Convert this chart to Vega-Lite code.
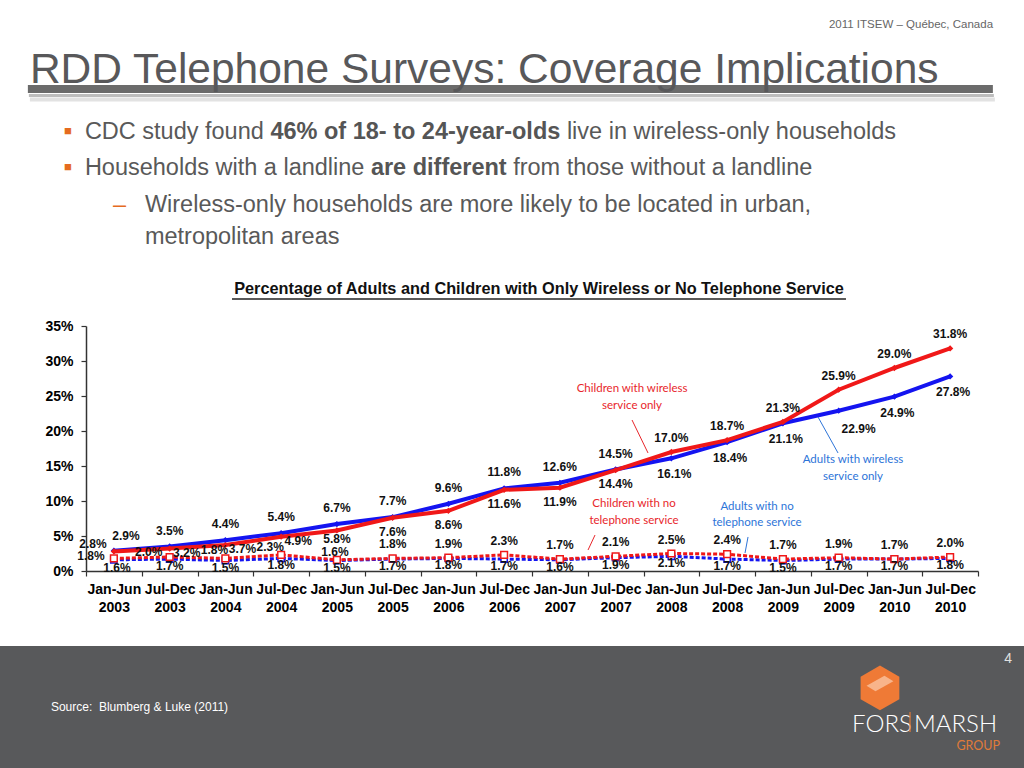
{
  "$schema": "https://vega.github.io/schema/vega-lite/v6.json",
  "width": 1024,
  "height": 768,
  "autosize": {"type": "none"},
  "padding": 0,
  "background": "#ffffff",
  "view": {
    "stroke": null,
    "fill": {
      "gradient": "linear", "x1": 0, "y1": 0, "x2": 0, "y2": 1,
      "stops": [
        {"offset": 0, "color": "#ffffff"},
        {"offset": 0.8411, "color": "#ffffff"},
        {"offset": 0.8412, "color": "#58595b"},
        {"offset": 1, "color": "#58595b"}
      ]
    }
  },
  "datasets": {
    "rates": [
      {"period": "Jan-Jun 2003", "series": "Adults with wireless service only", "value": 0.029},
      {"period": "Jul-Dec 2003", "series": "Adults with wireless service only", "value": 0.035},
      {"period": "Jan-Jun 2004", "series": "Adults with wireless service only", "value": 0.044},
      {"period": "Jul-Dec 2004", "series": "Adults with wireless service only", "value": 0.054},
      {"period": "Jan-Jun 2005", "series": "Adults with wireless service only", "value": 0.067},
      {"period": "Jul-Dec 2005", "series": "Adults with wireless service only", "value": 0.077},
      {"period": "Jan-Jun 2006", "series": "Adults with wireless service only", "value": 0.096},
      {"period": "Jul-Dec 2006", "series": "Adults with wireless service only", "value": 0.118},
      {"period": "Jan-Jun 2007", "series": "Adults with wireless service only", "value": 0.126},
      {"period": "Jul-Dec 2007", "series": "Adults with wireless service only", "value": 0.145},
      {"period": "Jan-Jun 2008", "series": "Adults with wireless service only", "value": 0.161},
      {"period": "Jul-Dec 2008", "series": "Adults with wireless service only", "value": 0.184},
      {"period": "Jan-Jun 2009", "series": "Adults with wireless service only", "value": 0.211},
      {"period": "Jul-Dec 2009", "series": "Adults with wireless service only", "value": 0.229},
      {"period": "Jan-Jun 2010", "series": "Adults with wireless service only", "value": 0.249},
      {"period": "Jul-Dec 2010", "series": "Adults with wireless service only", "value": 0.278},
      {"period": "Jan-Jun 2003", "series": "Children with wireless service only", "value": 0.028},
      {"period": "Jul-Dec 2003", "series": "Children with wireless service only", "value": 0.032},
      {"period": "Jan-Jun 2004", "series": "Children with wireless service only", "value": 0.037},
      {"period": "Jul-Dec 2004", "series": "Children with wireless service only", "value": 0.049},
      {"period": "Jan-Jun 2005", "series": "Children with wireless service only", "value": 0.058},
      {"period": "Jul-Dec 2005", "series": "Children with wireless service only", "value": 0.076},
      {"period": "Jan-Jun 2006", "series": "Children with wireless service only", "value": 0.086},
      {"period": "Jul-Dec 2006", "series": "Children with wireless service only", "value": 0.116},
      {"period": "Jan-Jun 2007", "series": "Children with wireless service only", "value": 0.119},
      {"period": "Jul-Dec 2007", "series": "Children with wireless service only", "value": 0.144},
      {"period": "Jan-Jun 2008", "series": "Children with wireless service only", "value": 0.170},
      {"period": "Jul-Dec 2008", "series": "Children with wireless service only", "value": 0.187},
      {"period": "Jan-Jun 2009", "series": "Children with wireless service only", "value": 0.213},
      {"period": "Jul-Dec 2009", "series": "Children with wireless service only", "value": 0.259},
      {"period": "Jan-Jun 2010", "series": "Children with wireless service only", "value": 0.290},
      {"period": "Jul-Dec 2010", "series": "Children with wireless service only", "value": 0.318},
      {"period": "Jan-Jun 2003", "series": "Adults with no telephone service", "value": 0.016},
      {"period": "Jul-Dec 2003", "series": "Adults with no telephone service", "value": 0.017},
      {"period": "Jan-Jun 2004", "series": "Adults with no telephone service", "value": 0.015},
      {"period": "Jul-Dec 2004", "series": "Adults with no telephone service", "value": 0.018},
      {"period": "Jan-Jun 2005", "series": "Adults with no telephone service", "value": 0.015},
      {"period": "Jul-Dec 2005", "series": "Adults with no telephone service", "value": 0.017},
      {"period": "Jan-Jun 2006", "series": "Adults with no telephone service", "value": 0.018},
      {"period": "Jul-Dec 2006", "series": "Adults with no telephone service", "value": 0.017},
      {"period": "Jan-Jun 2007", "series": "Adults with no telephone service", "value": 0.016},
      {"period": "Jul-Dec 2007", "series": "Adults with no telephone service", "value": 0.019},
      {"period": "Jan-Jun 2008", "series": "Adults with no telephone service", "value": 0.021},
      {"period": "Jul-Dec 2008", "series": "Adults with no telephone service", "value": 0.017},
      {"period": "Jan-Jun 2009", "series": "Adults with no telephone service", "value": 0.015},
      {"period": "Jul-Dec 2009", "series": "Adults with no telephone service", "value": 0.017},
      {"period": "Jan-Jun 2010", "series": "Adults with no telephone service", "value": 0.017},
      {"period": "Jul-Dec 2010", "series": "Adults with no telephone service", "value": 0.018},
      {"period": "Jan-Jun 2003", "series": "Children with no telephone service", "value": 0.018},
      {"period": "Jul-Dec 2003", "series": "Children with no telephone service", "value": 0.020},
      {"period": "Jan-Jun 2004", "series": "Children with no telephone service", "value": 0.018},
      {"period": "Jul-Dec 2004", "series": "Children with no telephone service", "value": 0.023},
      {"period": "Jan-Jun 2005", "series": "Children with no telephone service", "value": 0.016},
      {"period": "Jul-Dec 2005", "series": "Children with no telephone service", "value": 0.018},
      {"period": "Jan-Jun 2006", "series": "Children with no telephone service", "value": 0.019},
      {"period": "Jul-Dec 2006", "series": "Children with no telephone service", "value": 0.023},
      {"period": "Jan-Jun 2007", "series": "Children with no telephone service", "value": 0.017},
      {"period": "Jul-Dec 2007", "series": "Children with no telephone service", "value": 0.021},
      {"period": "Jan-Jun 2008", "series": "Children with no telephone service", "value": 0.025},
      {"period": "Jul-Dec 2008", "series": "Children with no telephone service", "value": 0.024},
      {"period": "Jan-Jun 2009", "series": "Children with no telephone service", "value": 0.017},
      {"period": "Jul-Dec 2009", "series": "Children with no telephone service", "value": 0.019},
      {"period": "Jan-Jun 2010", "series": "Children with no telephone service", "value": 0.017},
      {"period": "Jul-Dec 2010", "series": "Children with no telephone service", "value": 0.020}
    ]
  },
  "layer": [
    {
      "data": {"name": "rates"},
      "transform": [{"filter": {"field": "series", "equal": "Adults with no telephone service"}}],
      "mark": {"type": "line", "color": "#1414f0", "strokeWidth": 3, "strokeDash": [4, 2]},
      "encoding": {
        "x": {
          "field": "period", "type": "ordinal", "bandPosition": 0.5,
          "scale": {"type": "band", "domain": ["Jan-Jun 2003","Jul-Dec 2003","Jan-Jun 2004","Jul-Dec 2004","Jan-Jun 2005","Jul-Dec 2005","Jan-Jun 2006","Jul-Dec 2006","Jan-Jun 2007","Jul-Dec 2007","Jan-Jun 2008","Jul-Dec 2008","Jan-Jun 2009","Jul-Dec 2009","Jan-Jun 2010","Jul-Dec 2010"], "range": [86, 978], "paddingInner": 0, "paddingOuter": 0},
          "axis": {
            "title": null, "orient": "bottom", "offset": -197,
            "labelExpr": "split(datum.label, ' ')",
            "labelFont": "Liberation Sans", "labelFontSize": 14, "labelFontWeight": "bold", "labelColor": "#000000",
            "labelLineHeight": 18, "labelPadding": 6, "labelAngle": 0, "labelOverlap": false, "labelFlush": false,
            "tickBand": "extent", "tickSize": 5, "tickColor": "#333333", "tickWidth": 1.2,
            "domainColor": "#333333", "domainWidth": 1.5, "grid": false
          }
        },
        "y": {
          "field": "value", "type": "quantitative",
          "scale": {"domain": [0, 0.35], "range": [571, 326], "nice": false, "zero": false},
          "axis": {
            "title": null, "offset": -86, "values": [0, 0.05, 0.1, 0.15, 0.2, 0.25, 0.3, 0.35], "format": ".0%",
            "labelFont": "Liberation Sans", "labelFontSize": 14, "labelFontWeight": "bold", "labelColor": "#000000",
            "labelPadding": 8, "tickSize": 5, "tickColor": "#333333", "tickWidth": 1.2,
            "domainColor": "#333333", "domainWidth": 1.5, "grid": false
          }
        }
      }
    },
    {
      "data": {"name": "rates"},
      "transform": [{"filter": {"field": "series", "equal": "Adults with no telephone service"}}],
      "mark": {"type": "point", "shape": "square", "filled": true, "fill": "#ffffff", "stroke": "#1414f0", "strokeWidth": 1.5, "size": 40, "opacity": 1},
      "encoding": {"x": {"field": "period", "type": "ordinal", "bandPosition": 0.5}, "y": {"field": "value", "type": "quantitative"}}
    },
    {
      "data": {"name": "rates"},
      "transform": [{"filter": {"field": "series", "equal": "Children with no telephone service"}}],
      "mark": {"type": "line", "color": "#f01818", "strokeWidth": 3, "strokeDash": [4, 2]},
      "encoding": {"x": {"field": "period", "type": "ordinal", "bandPosition": 0.5}, "y": {"field": "value", "type": "quantitative"}}
    },
    {
      "data": {"name": "rates"},
      "transform": [{"filter": {"field": "series", "equal": "Children with no telephone service"}}],
      "mark": {"type": "point", "shape": "square", "filled": true, "fill": "#ffffff", "stroke": "#f01818", "strokeWidth": 1.5, "size": 45, "opacity": 1},
      "encoding": {"x": {"field": "period", "type": "ordinal", "bandPosition": 0.5}, "y": {"field": "value", "type": "quantitative"}}
    },
    {
      "data": {"name": "rates"},
      "transform": [{"filter": {"field": "series", "equal": "Adults with wireless service only"}}],
      "mark": {"type": "line", "color": "#1414f0", "strokeWidth": 4},
      "encoding": {"x": {"field": "period", "type": "ordinal", "bandPosition": 0.5}, "y": {"field": "value", "type": "quantitative"}}
    },
    {
      "data": {"name": "rates"},
      "transform": [{"filter": {"field": "series", "equal": "Adults with wireless service only"}}],
      "mark": {"type": "point", "shape": "diamond", "filled": true, "color": "#1414f0", "size": 40, "opacity": 1},
      "encoding": {"x": {"field": "period", "type": "ordinal", "bandPosition": 0.5}, "y": {"field": "value", "type": "quantitative"}}
    },
    {
      "data": {"name": "rates"},
      "transform": [{"filter": {"field": "series", "equal": "Children with wireless service only"}}],
      "mark": {"type": "line", "color": "#f01818", "strokeWidth": 4},
      "encoding": {"x": {"field": "period", "type": "ordinal", "bandPosition": 0.5}, "y": {"field": "value", "type": "quantitative"}}
    },
    {
      "data": {"name": "rates"},
      "transform": [{"filter": {"field": "series", "equal": "Children with wireless service only"}}],
      "mark": {"type": "point", "shape": "diamond", "filled": true, "color": "#f01818", "size": 40, "opacity": 1},
      "encoding": {"x": {"field": "period", "type": "ordinal", "bandPosition": 0.5}, "y": {"field": "value", "type": "quantitative"}}
    },
    {
      "data": {"name": "rates"},
      "transform": [{"filter": {"and": [{"field": "series", "equal": "Adults with wireless service only"}, {"field": "period", "oneOf": ["Jan-Jun 2003"]}]}}],
      "mark": {"type": "text", "font": "Liberation Sans", "fontSize": 12, "fontWeight": "bold", "fill": "#111111", "dy": -15, "dx": 12},
      "encoding": {"x": {"field": "period", "type": "ordinal", "bandPosition": 0.5}, "y": {"field": "value", "type": "quantitative"}, "text": {"field": "value", "format": ".1%"}}
    },
    {
      "data": {"name": "rates"},
      "transform": [{"filter": {"and": [{"field": "series", "equal": "Adults with wireless service only"}, {"field": "period", "oneOf": ["Jul-Dec 2003","Jan-Jun 2004","Jul-Dec 2004","Jan-Jun 2005","Jul-Dec 2005","Jan-Jun 2006","Jul-Dec 2006","Jan-Jun 2007","Jul-Dec 2007"]}]}}],
      "mark": {"type": "text", "font": "Liberation Sans", "fontSize": 12, "fontWeight": "bold", "fill": "#111111", "dy": -16},
      "encoding": {"x": {"field": "period", "type": "ordinal", "bandPosition": 0.5}, "y": {"field": "value", "type": "quantitative"}, "text": {"field": "value", "format": ".1%"}}
    },
    {
      "data": {"name": "rates"},
      "transform": [{"filter": {"and": [{"field": "series", "equal": "Adults with wireless service only"}, {"field": "period", "oneOf": ["Jan-Jun 2008","Jul-Dec 2008","Jan-Jun 2009","Jan-Jun 2010","Jul-Dec 2010"]}]}}],
      "mark": {"type": "text", "font": "Liberation Sans", "fontSize": 12, "fontWeight": "bold", "fill": "#111111", "dy": 16, "dx": 3},
      "encoding": {"x": {"field": "period", "type": "ordinal", "bandPosition": 0.5}, "y": {"field": "value", "type": "quantitative"}, "text": {"field": "value", "format": ".1%"}}
    },
    {
      "data": {"name": "rates"},
      "transform": [{"filter": {"and": [{"field": "series", "equal": "Adults with wireless service only"}, {"field": "period", "oneOf": ["Jul-Dec 2009"]}]}}],
      "mark": {"type": "text", "font": "Liberation Sans", "fontSize": 12, "fontWeight": "bold", "fill": "#111111", "dy": 18, "dx": 20},
      "encoding": {"x": {"field": "period", "type": "ordinal", "bandPosition": 0.5}, "y": {"field": "value", "type": "quantitative"}, "text": {"field": "value", "format": ".1%"}}
    },
    {
      "data": {"name": "rates"},
      "transform": [{"filter": {"and": [{"field": "series", "equal": "Children with wireless service only"}, {"field": "period", "oneOf": ["Jan-Jun 2003"]}]}}],
      "mark": {"type": "text", "font": "Liberation Sans", "fontSize": 12, "fontWeight": "bold", "fill": "#111111", "dy": -7, "dx": -21},
      "encoding": {"x": {"field": "period", "type": "ordinal", "bandPosition": 0.5}, "y": {"field": "value", "type": "quantitative"}, "text": {"field": "value", "format": ".1%"}}
    },
    {
      "data": {"name": "rates"},
      "transform": [{"filter": {"and": [{"field": "series", "equal": "Children with wireless service only"}, {"field": "period", "oneOf": ["Jul-Dec 2003","Jan-Jun 2004","Jul-Dec 2004"]}]}}],
      "mark": {"type": "text", "font": "Liberation Sans", "fontSize": 12, "fontWeight": "bold", "fill": "#111111", "dy": 4, "dx": 17},
      "encoding": {"x": {"field": "period", "type": "ordinal", "bandPosition": 0.5}, "y": {"field": "value", "type": "quantitative"}, "text": {"field": "value", "format": ".1%"}}
    },
    {
      "data": {"name": "rates"},
      "transform": [{"filter": {"and": [{"field": "series", "equal": "Children with wireless service only"}, {"field": "period", "oneOf": ["Jan-Jun 2005"]}]}}],
      "mark": {"type": "text", "font": "Liberation Sans", "fontSize": 12, "fontWeight": "bold", "fill": "#111111", "dy": 9},
      "encoding": {"x": {"field": "period", "type": "ordinal", "bandPosition": 0.5}, "y": {"field": "value", "type": "quantitative"}, "text": {"field": "value", "format": ".1%"}}
    },
    {
      "data": {"name": "rates"},
      "transform": [{"filter": {"and": [{"field": "series", "equal": "Children with wireless service only"}, {"field": "period", "oneOf": ["Jul-Dec 2005","Jan-Jun 2006","Jul-Dec 2006","Jan-Jun 2007","Jul-Dec 2007"]}]}}],
      "mark": {"type": "text", "font": "Liberation Sans", "fontSize": 12, "fontWeight": "bold", "fill": "#111111", "dy": 14},
      "encoding": {"x": {"field": "period", "type": "ordinal", "bandPosition": 0.5}, "y": {"field": "value", "type": "quantitative"}, "text": {"field": "value", "format": ".1%"}}
    },
    {
      "data": {"name": "rates"},
      "transform": [{"filter": {"and": [{"field": "series", "equal": "Children with wireless service only"}, {"field": "period", "oneOf": ["Jan-Jun 2008","Jul-Dec 2008","Jan-Jun 2009","Jul-Dec 2009","Jan-Jun 2010","Jul-Dec 2010"]}]}}],
      "mark": {"type": "text", "font": "Liberation Sans", "fontSize": 12, "fontWeight": "bold", "fill": "#111111", "dy": -14},
      "encoding": {"x": {"field": "period", "type": "ordinal", "bandPosition": 0.5}, "y": {"field": "value", "type": "quantitative"}, "text": {"field": "value", "format": ".1%"}}
    },
    {
      "data": {"name": "rates"},
      "transform": [{"filter": {"and": [{"field": "series", "equal": "Children with no telephone service"}, {"field": "period", "oneOf": ["Jan-Jun 2003"]}]}}],
      "mark": {"type": "text", "font": "Liberation Sans", "fontSize": 12, "fontWeight": "bold", "fill": "#111111", "dy": -2, "dx": -23},
      "encoding": {"x": {"field": "period", "type": "ordinal", "bandPosition": 0.5}, "y": {"field": "value", "type": "quantitative"}, "text": {"field": "value", "format": ".1%"}}
    },
    {
      "data": {"name": "rates"},
      "transform": [{"filter": {"and": [{"field": "series", "equal": "Children with no telephone service"}, {"field": "period", "oneOf": ["Jul-Dec 2003"]}]}}],
      "mark": {"type": "text", "font": "Liberation Sans", "fontSize": 12, "fontWeight": "bold", "fill": "#111111", "dy": -5, "dx": -21},
      "encoding": {"x": {"field": "period", "type": "ordinal", "bandPosition": 0.5}, "y": {"field": "value", "type": "quantitative"}, "text": {"field": "value", "format": ".1%"}}
    },
    {
      "data": {"name": "rates"},
      "transform": [{"filter": {"and": [{"field": "series", "equal": "Children with no telephone service"}, {"field": "period", "oneOf": ["Jan-Jun 2004","Jul-Dec 2004"]}]}}],
      "mark": {"type": "text", "font": "Liberation Sans", "fontSize": 12, "fontWeight": "bold", "fill": "#111111", "dy": -8, "dx": -11},
      "encoding": {"x": {"field": "period", "type": "ordinal", "bandPosition": 0.5}, "y": {"field": "value", "type": "quantitative"}, "text": {"field": "value", "format": ".1%"}}
    },
    {
      "data": {"name": "rates"},
      "transform": [{"filter": {"and": [{"field": "series", "equal": "Children with no telephone service"}, {"field": "period", "oneOf": ["Jan-Jun 2005"]}]}}],
      "mark": {"type": "text", "font": "Liberation Sans", "fontSize": 12, "fontWeight": "bold", "fill": "#111111", "dy": -8, "dx": -2},
      "encoding": {"x": {"field": "period", "type": "ordinal", "bandPosition": 0.5}, "y": {"field": "value", "type": "quantitative"}, "text": {"field": "value", "format": ".1%"}}
    },
    {
      "data": {"name": "rates"},
      "transform": [{"filter": {"and": [{"field": "series", "equal": "Children with no telephone service"}, {"field": "period", "oneOf": ["Jul-Dec 2005","Jan-Jun 2006","Jul-Dec 2006","Jan-Jun 2007","Jul-Dec 2007","Jan-Jun 2008","Jul-Dec 2008","Jan-Jun 2009","Jul-Dec 2009","Jan-Jun 2010","Jul-Dec 2010"]}]}}],
      "mark": {"type": "text", "font": "Liberation Sans", "fontSize": 12, "fontWeight": "bold", "fill": "#111111", "dy": -14},
      "encoding": {"x": {"field": "period", "type": "ordinal", "bandPosition": 0.5}, "y": {"field": "value", "type": "quantitative"}, "text": {"field": "value", "format": ".1%"}}
    },
    {
      "data": {"name": "rates"},
      "transform": [{"filter": {"and": [{"field": "series", "equal": "Adults with no telephone service"}, {"field": "period", "oneOf": ["Jan-Jun 2003"]}]}}],
      "mark": {"type": "text", "font": "Liberation Sans", "fontSize": 12, "fontWeight": "bold", "fill": "#111111", "dy": 8, "dx": 3},
      "encoding": {"x": {"field": "period", "type": "ordinal", "bandPosition": 0.5}, "y": {"field": "value", "type": "quantitative"}, "text": {"field": "value", "format": ".1%"}}
    },
    {
      "data": {"name": "rates"},
      "transform": [{"filter": {"and": [{"field": "series", "equal": "Adults with no telephone service"}, {"field": "period", "oneOf": ["Jul-Dec 2003","Jan-Jun 2004","Jul-Dec 2004","Jan-Jun 2005","Jul-Dec 2005","Jan-Jun 2006","Jul-Dec 2006","Jan-Jun 2007","Jul-Dec 2007","Jan-Jun 2008","Jul-Dec 2008","Jan-Jun 2009","Jul-Dec 2009","Jan-Jun 2010","Jul-Dec 2010"]}]}}],
      "mark": {"type": "text", "font": "Liberation Sans", "fontSize": 12, "fontWeight": "bold", "fill": "#111111", "dy": 7},
      "encoding": {"x": {"field": "period", "type": "ordinal", "bandPosition": 0.5}, "y": {"field": "value", "type": "quantitative"}, "text": {"field": "value", "format": ".1%"}}
    },
    {
      "data": {"values": [{}]},
      "mark": {"type": "text", "text": ["Children with wireless", "service only"], "font": "Lato", "fontSize": 11.5, "fill": "#e8262b", "lineHeight": 17, "align": "center", "baseline": "middle", "dx": 16.4},
      "encoding": {"x": {"datum": "Jul-Dec 2007", "type": "ordinal", "bandPosition": 0.5}, "y": {"datum": 0.26, "type": "quantitative"}}
    },
    {
      "data": {"values": [{}]},
      "mark": {"type": "text", "text": ["Adults with wireless", "service only"], "font": "Lato", "fontSize": 11.5, "fill": "#2d74d8", "lineHeight": 17, "align": "center", "baseline": "middle", "dx": 14.4},
      "encoding": {"x": {"datum": "Jul-Dec 2009", "type": "ordinal", "bandPosition": 0.5}, "y": {"datum": 0.1586, "type": "quantitative"}}
    },
    {
      "data": {"values": [{}]},
      "mark": {"type": "text", "text": ["Children with no", "telephone service"], "font": "Lato", "fontSize": 11.5, "fill": "#e8262b", "lineHeight": 17, "align": "center", "baseline": "middle", "dx": 18.4},
      "encoding": {"x": {"datum": "Jul-Dec 2007", "type": "ordinal", "bandPosition": 0.5}, "y": {"datum": 0.0957, "type": "quantitative"}}
    },
    {
      "data": {"values": [{}]},
      "mark": {"type": "text", "text": ["Adults with no", "telephone service"], "font": "Lato", "fontSize": 11.5, "fill": "#2d74d8", "lineHeight": 16, "align": "center", "baseline": "middle", "dx": 29.9},
      "encoding": {"x": {"datum": "Jul-Dec 2008", "type": "ordinal", "bandPosition": 0.5}, "y": {"datum": 0.0914, "type": "quantitative"}}
    },
    {
      "data": {"values": [{}]},
      "mark": {"type": "rule", "stroke": "#e8262b", "strokeWidth": 1, "xOffset": 16.4, "x2Offset": 32.4},
      "encoding": {"x": {"datum": "Jul-Dec 2007", "type": "ordinal", "bandPosition": 0.5}, "x2": {"datum": "Jul-Dec 2007"}, "y": {"datum": 0.2157, "type": "quantitative"}, "y2": {"datum": 0.1686}}
    },
    {
      "data": {"values": [{}]},
      "mark": {"type": "rule", "stroke": "#2d74d8", "strokeWidth": 1, "xOffset": -20.6, "x2Offset": -0.6},
      "encoding": {"x": {"datum": "Jul-Dec 2009", "type": "ordinal", "bandPosition": 0.5}, "x2": {"datum": "Jul-Dec 2009"}, "y": {"datum": 0.22, "type": "quantitative"}, "y2": {"datum": 0.1686}}
    },
    {
      "data": {"values": [{}]},
      "mark": {"type": "rule", "stroke": "#e8262b", "strokeWidth": 1, "xOffset": -27.6, "x2Offset": -20.6},
      "encoding": {"x": {"datum": "Jul-Dec 2007", "type": "ordinal", "bandPosition": 0.5}, "x2": {"datum": "Jul-Dec 2007"}, "y": {"datum": 0.03, "type": "quantitative"}, "y2": {"datum": 0.0514}}
    },
    {
      "data": {"values": [{}]},
      "mark": {"type": "rule", "stroke": "#2d74d8", "strokeWidth": 1, "xOffset": 20.9, "x2Offset": 17.9},
      "encoding": {"x": {"datum": "Jul-Dec 2008", "type": "ordinal", "bandPosition": 0.5}, "x2": {"datum": "Jul-Dec 2008"}, "y": {"datum": 0.0486, "type": "quantitative"}, "y2": {"datum": 0.0257}}
    },
    {
      "data": {"values": [{}]},
      "mark": {"type": "text", "text": "Percentage of Adults and Children with Only Wireless or No Telephone Service", "font": "Liberation Sans", "fontSize": 16.3, "fontWeight": "bold", "fill": "#111111", "align": "center", "baseline": "alphabetic", "dx": -20.9},
      "encoding": {"x": {"datum": "Jan-Jun 2007", "type": "ordinal", "bandPosition": 0.5}, "y": {"datum": 0.3957, "type": "quantitative"}}
    },
    {
      "data": {"values": [{}]},
      "mark": {"type": "rule", "stroke": "#222222", "strokeWidth": 1.5, "xOffset": -327.9, "x2Offset": 286.1},
      "encoding": {"x": {"datum": "Jan-Jun 2007", "type": "ordinal", "bandPosition": 0.5}, "x2": {"datum": "Jan-Jun 2007"}, "y": {"datum": 0.3886, "type": "quantitative"}}
    },
    {
      "data": {"values": [{}]},
      "mark": {"type": "rule", "stroke": "#e2e2e2", "strokeWidth": 4, "xOffset": -84, "x2Offset": 881},
      "encoding": {"x": {"datum": "Jan-Jun 2003", "type": "ordinal", "bandPosition": 0.5}, "x2": {"datum": "Jan-Jun 2003"}, "y": {"datum": 0.6736, "type": "quantitative"}}
    },
    {
      "data": {"values": [{}]},
      "mark": {"type": "rule", "stroke": "#bdbdbd", "strokeWidth": 3, "xOffset": -85, "x2Offset": 880},
      "encoding": {"x": {"datum": "Jan-Jun 2003", "type": "ordinal", "bandPosition": 0.5}, "x2": {"datum": "Jan-Jun 2003"}, "y": {"datum": 0.6793, "type": "quantitative"}}
    },
    {
      "data": {"values": [{}]},
      "mark": {"type": "rule", "stroke": "#6b6b6b", "strokeWidth": 8, "xOffset": -86, "x2Offset": 879},
      "encoding": {"x": {"datum": "Jan-Jun 2003", "type": "ordinal", "bandPosition": 0.5}, "x2": {"datum": "Jan-Jun 2003"}, "y": {"datum": 0.6886, "type": "quantitative"}}
    },
    {
      "data": {"values": [{}]},
      "mark": {"type": "text", "text": "RDD Telephone Surveys: Coverage Implications", "font": "Liberation Sans", "fontSize": 42.5, "fill": "#58585a", "align": "left", "baseline": "alphabetic", "dx": -84},
      "encoding": {"x": {"datum": "Jan-Jun 2003", "type": "ordinal", "bandPosition": 0.5}, "y": {"datum": 0.6971, "type": "quantitative"}}
    },
    {
      "data": {"values": [{}]},
      "mark": {"type": "text", "text": "2011 ITSEW – Québec, Canada", "font": "Liberation Sans", "fontSize": 11.5, "fill": "#666666", "align": "right", "baseline": "alphabetic", "dx": 42.9},
      "encoding": {"x": {"datum": "Jul-Dec 2010", "type": "ordinal", "bandPosition": 0.5}, "y": {"datum": 0.7757, "type": "quantitative"}}
    },
    {
      "data": {"values": [{}]},
      "mark": {"type": "text", "text": "■", "font": "Liberation Sans", "fontSize": 13, "fill": "#e56b1f", "align": "left", "baseline": "alphabetic", "dx": -50},
      "encoding": {"x": {"datum": "Jan-Jun 2003", "type": "ordinal", "bandPosition": 0.5}, "y": {"datum": 0.6229, "type": "quantitative"}}
    },
    {
      "data": {"values": [{}]},
      "mark": {"type": "text", "text": "■", "font": "Liberation Sans", "fontSize": 13, "fill": "#e56b1f", "align": "left", "baseline": "alphabetic", "dx": -50},
      "encoding": {"x": {"datum": "Jan-Jun 2003", "type": "ordinal", "bandPosition": 0.5}, "y": {"datum": 0.5714, "type": "quantitative"}}
    },
    {
      "data": {"values": [{}]},
      "mark": {"type": "text", "text": "–", "font": "Liberation Sans", "fontSize": 23.5, "fill": "#e56b1f", "align": "left", "baseline": "alphabetic", "dx": -1},
      "encoding": {"x": {"datum": "Jan-Jun 2003", "type": "ordinal", "bandPosition": 0.5}, "y": {"datum": 0.5129, "type": "quantitative"}}
    },
    {
      "data": {"values": [{}]},
      "mark": {"type": "text", "text": "CDC study found", "font": "Liberation Sans", "fontSize": 23.5, "fill": "#595959", "align": "left", "baseline": "alphabetic", "dx": -29},
      "encoding": {"x": {"datum": "Jan-Jun 2003", "type": "ordinal", "bandPosition": 0.5}, "y": {"datum": 0.6171, "type": "quantitative"}}
    },
    {
      "data": {"values": [{}]},
      "mark": {"type": "text", "text": "46% of 18- to 24-year-olds", "font": "Liberation Sans", "fontSize": 23.5, "fontWeight": "bold", "fill": "#555555", "align": "left", "baseline": "alphabetic", "dx": 156.5},
      "encoding": {"x": {"datum": "Jan-Jun 2003", "type": "ordinal", "bandPosition": 0.5}, "y": {"datum": 0.6171, "type": "quantitative"}}
    },
    {
      "data": {"values": [{}]},
      "mark": {"type": "text", "text": "live in wireless-only households", "font": "Liberation Sans", "fontSize": 23.5, "fill": "#595959", "align": "left", "baseline": "alphabetic", "dx": 453},
      "encoding": {"x": {"datum": "Jan-Jun 2003", "type": "ordinal", "bandPosition": 0.5}, "y": {"datum": 0.6171, "type": "quantitative"}}
    },
    {
      "data": {"values": [{}]},
      "mark": {"type": "text", "text": "Households with a landline", "font": "Liberation Sans", "fontSize": 23.5, "fill": "#595959", "align": "left", "baseline": "alphabetic", "dx": -29},
      "encoding": {"x": {"datum": "Jan-Jun 2003", "type": "ordinal", "bandPosition": 0.5}, "y": {"datum": 0.5657, "type": "quantitative"}}
    },
    {
      "data": {"values": [{}]},
      "mark": {"type": "text", "text": "are different", "font": "Liberation Sans", "fontSize": 23.5, "fontWeight": "bold", "fill": "#555555", "align": "left", "baseline": "alphabetic", "dx": 257},
      "encoding": {"x": {"datum": "Jan-Jun 2003", "type": "ordinal", "bandPosition": 0.5}, "y": {"datum": 0.5657, "type": "quantitative"}}
    },
    {
      "data": {"values": [{}]},
      "mark": {"type": "text", "text": "from those without a landline", "font": "Liberation Sans", "fontSize": 23.5, "fill": "#595959", "align": "left", "baseline": "alphabetic", "dx": 399.3},
      "encoding": {"x": {"datum": "Jan-Jun 2003", "type": "ordinal", "bandPosition": 0.5}, "y": {"datum": 0.5657, "type": "quantitative"}}
    },
    {
      "data": {"values": [{}]},
      "mark": {"type": "text", "text": ["Wireless-only households are more likely to be located in urban,", "metropolitan areas"], "font": "Liberation Sans", "fontSize": 23.5, "fill": "#595959", "lineHeight": 32, "align": "left", "baseline": "alphabetic", "dx": 31},
      "encoding": {"x": {"datum": "Jan-Jun 2003", "type": "ordinal", "bandPosition": 0.5}, "y": {"datum": 0.5129, "type": "quantitative"}}
    },
    {
      "data": {"values": [{}]},
      "mark": {"type": "text", "text": "Source:\u00a0 Blumberg & Luke (2011)", "font": "Liberation Sans", "fontSize": 12, "fill": "#ffffff", "align": "left", "baseline": "alphabetic", "dx": -63},
      "encoding": {"x": {"datum": "Jan-Jun 2003", "type": "ordinal", "bandPosition": 0.5}, "y": {"datum": -0.2, "type": "quantitative"}}
    },
    {
      "data": {"values": [{}]},
      "mark": {"type": "text", "text": "4", "font": "Liberation Sans", "fontSize": 14, "fill": "#e0e0e0", "align": "center", "baseline": "alphabetic", "dx": 57.9},
      "encoding": {"x": {"datum": "Jul-Dec 2010", "type": "ordinal", "bandPosition": 0.5}, "y": {"datum": -0.1314, "type": "quantitative"}}
    },
    {
      "data": {"values": [{}]},
      "mark": {"type": "point", "shape": "M0,-1L0.866,-0.5L0.866,0.5L0,1L-0.866,0.5L-0.866,-0.5Z", "filled": true, "fill": "#ef7a36", "size": 2000, "opacity": 1, "xOffset": -14.4},
      "encoding": {"x": {"datum": "Jan-Jun 2010", "type": "ordinal", "bandPosition": 0.5}, "y": {"datum": -0.1671, "type": "quantitative"}}
    },
    {
      "data": {"values": [{}]},
      "mark": {"type": "point", "shape": "M-0.6,-0.1L0.2,-0.55L0.6,-0.3L-0.2,0.15Z", "filled": true, "fill": "#f8b48a", "size": 2000, "opacity": 1, "xOffset": -14.4},
      "encoding": {"x": {"datum": "Jan-Jun 2010", "type": "ordinal", "bandPosition": 0.5}, "y": {"datum": -0.1671, "type": "quantitative"}}
    },
    {
      "data": {"values": [{}]},
      "mark": {"type": "text", "text": "FORS", "font": "Lato", "fontWeight": 300, "fontSize": 24, "fill": "#ffffff", "align": "left", "baseline": "alphabetic", "dx": -98.1},
      "encoding": {"x": {"datum": "Jul-Dec 2010", "type": "ordinal", "bandPosition": 0.5}, "y": {"datum": -0.23, "type": "quantitative"}}
    },
    {
      "data": {"values": [{}]},
      "mark": {"type": "rule", "stroke": "#e07b39", "strokeWidth": 1.2, "xOffset": -40.1},
      "encoding": {"x": {"datum": "Jul-Dec 2010", "type": "ordinal", "bandPosition": 0.5}, "y": {"datum": -0.2014, "type": "quantitative"}, "y2": {"datum": -0.23}}
    },
    {
      "data": {"values": [{}]},
      "mark": {"type": "text", "text": "MARSH", "font": "Lato", "fontWeight": 300, "fontSize": 24, "fill": "#ffffff", "align": "left", "baseline": "alphabetic", "dx": -36.1},
      "encoding": {"x": {"datum": "Jul-Dec 2010", "type": "ordinal", "bandPosition": 0.5}, "y": {"datum": -0.23, "type": "quantitative"}}
    },
    {
      "data": {"values": [{}]},
      "mark": {"type": "text", "text": "GROUP", "font": "Lato", "fontSize": 12.5, "fill": "#e07b39", "align": "right", "baseline": "alphabetic", "dx": 49.9},
      "encoding": {"x": {"datum": "Jul-Dec 2010", "type": "ordinal", "bandPosition": 0.5}, "y": {"datum": -0.2557, "type": "quantitative"}}
    }
  ]
}
